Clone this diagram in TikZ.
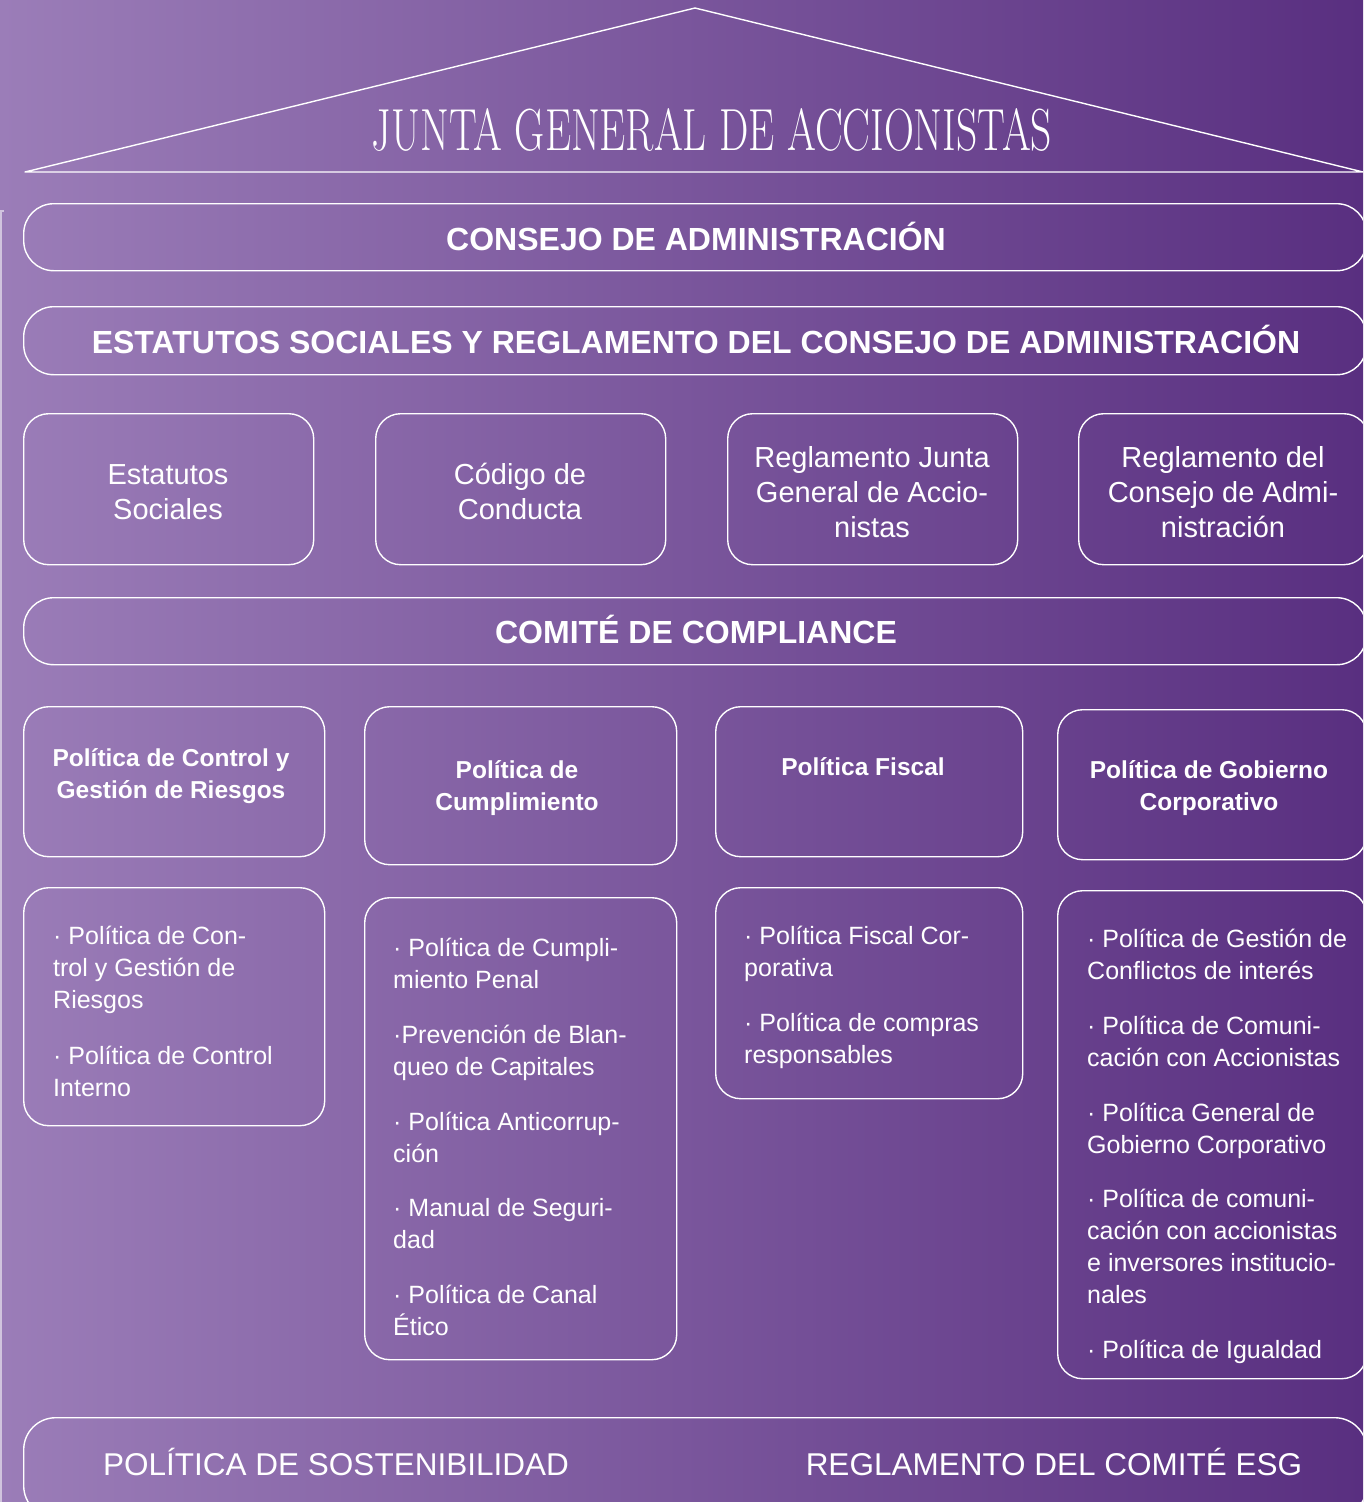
\documentclass[tikz,border=0pt]{standalone}
\usepackage{fontspec}
\setmainfont{Liberation Sans}
\newfontfamily\titlefont{Latin Modern Roman}
\usepackage{graphicx}
\definecolor{bgL}{HTML}{9B7DB8}
\definecolor{bgR}{HTML}{592F80}
\begin{document}
\begin{tikzpicture}[x=1pt,y=-1pt,
  frame/.style={draw=white, line width=1.4pt, rounded corners=#1, inner sep=0pt, anchor=north west},
  frame/.default=25pt,
  roofline/.style={draw=white, line width=1.4pt, line join=round},
  bannertxt/.style={text=white, inner sep=0pt, anchor=base, font=\fontsize{32}{38}\selectfont\bfseries},
  boxtxt/.style={text=white, inner sep=0pt, anchor=base, font=\fontsize{29}{35}\selectfont},
  headtxt/.style={text=white, inner sep=0pt, anchor=base, font=\fontsize{24.5}{32}\selectfont\bfseries},
  lsttxt/.style={text=white, inner sep=0pt, anchor=base west, font=\fontsize{25}{32}\selectfont},
  bottxt/.style={text=white, inner sep=0pt, anchor=base, font=\fontsize{31.5}{38}\selectfont},
  titletxt/.style={text=white, inner sep=0pt, anchor=base, font=\titlefont\fontsize{60}{70}\selectfont}
]
\useasboundingbox (0,0) rectangle (1363,1502);
\shade[left color=bgL, right color=bgR] (0,0) rectangle (1363,1502);
\clip (0,0) rectangle (1363,1502);

% left edge artifact
\draw[white, opacity=0.55, line width=1.5pt] (4,211) -- (1,211) -- (1,1502);

% roof
\coordinate (roofL) at (25,172);
\coordinate (apex) at (695,8);
\coordinate (roofR) at (1363,172);
\draw[roofline] (roofL) -- (apex) -- (roofR) -- cycle;
\node[titletxt] (title) at (712,150) {\resizebox{680pt}{42pt}{JUNTA GENERAL DE ACCIONISTAS}};

% banners
\node[frame=30pt, minimum width=1343pt, minimum height=67pt] (consejo) at (23,203) {};
\node[bannertxt] (consejoT) at (696,250) {CONSEJO DE ADMINISTRACIÓN};

\node[frame=30pt, minimum width=1343pt, minimum height=68pt] (estat) at (23,306) {};
\node[bannertxt] (estatT) at (696,353) {ESTATUTOS SOCIALES Y REGLAMENTO DEL CONSEJO DE ADMINISTRACIÓN};

% row of four documents
\node[frame, minimum width=290pt, minimum height=151pt] (d1) at (23,413) {};
\node[frame, minimum width=290pt, minimum height=151pt] (d2) at (375,413) {};
\node[frame, minimum width=290pt, minimum height=151pt] (d3) at (727,413) {};
\node[frame, minimum width=290pt, minimum height=151pt] (d4) at (1078,413) {};
\node[boxtxt] (d1a) at (168,484) {Estatutos};
\node[boxtxt] (d1b) at (168,519) {Sociales};
\node[boxtxt] (d2a) at (520,484) {Código de};
\node[boxtxt] (d2b) at (520,519) {Conducta};
\node[boxtxt] (d3a) at (872,467) {Reglamento Junta};
\node[boxtxt] (d3b) at (872,502) {General de Accio-};
\node[boxtxt] (d3c) at (872,537) {nistas};
\node[boxtxt] (d4a) at (1223,467) {Reglamento del};
\node[boxtxt] (d4b) at (1223,502) {Consejo de Admi-};
\node[boxtxt] (d4c) at (1223,537) {nistración};

% comite
\node[frame=30pt, minimum width=1343pt, minimum height=67pt] (comite) at (23,597) {};
\node[bannertxt] (comiteT) at (696,643) {COMITÉ DE COMPLIANCE};

% policy headings
\node[frame, minimum width=301pt, minimum height=150pt] (h1) at (23,706) {};
\node[frame, minimum width=312pt, minimum height=158pt] (h2) at (364,706) {};
\node[frame, minimum width=307pt, minimum height=150pt] (h3) at (715,706) {};
\node[frame, minimum width=309pt, minimum height=150pt] (h4) at (1057,709) {};
\node[headtxt] (h1a) at (171,766) {Política de Control y};
\node[headtxt] (h1b) at (171,798) {Gestión de Riesgos};
\node[headtxt] (h2a) at (517,778) {Política de};
\node[headtxt] (h2b) at (517,810) {Cumplimiento};
\node[headtxt] (h3a) at (863,775) {Política Fiscal};
\node[headtxt] (h4a) at (1209,778) {Política de Gobierno};
\node[headtxt] (h4b) at (1209,810) {Corporativo};

% policy lists
\node[frame, minimum width=301pt, minimum height=238pt] (p1) at (23,887) {};
\node[frame, minimum width=312pt, minimum height=462pt] (p2) at (364,897) {};
\node[frame, minimum width=307pt, minimum height=211pt] (p3) at (715,887) {};
\node[frame, minimum width=309pt, minimum height=488pt] (p4) at (1057,890) {};

\node[lsttxt] (p1a) at (53,944) {· Política de Con-};
\node[lsttxt] (p1b) at (53,976) {trol y Gestión de};
\node[lsttxt] (p1c) at (53,1008) {Riesgos};
\node[lsttxt] (p1d) at (53,1064) {· Política de Control};
\node[lsttxt] (p1e) at (53,1096) {Interno};

\node[lsttxt] (p2a) at (393,956) {· Política de Cumpli-};
\node[lsttxt] (p2b) at (393,988) {miento Penal};
\node[lsttxt] (p2c) at (393,1043) {·Prevención de Blan-};
\node[lsttxt] (p2d) at (393,1075) {queo de Capitales};
\node[lsttxt] (p2e) at (393,1130) {· Política Anticorrup-};
\node[lsttxt] (p2f) at (393,1162) {ción};
\node[lsttxt] (p2g) at (393,1216) {· Manual de Seguri-};
\node[lsttxt] (p2h) at (393,1248) {dad};
\node[lsttxt] (p2i) at (393,1303) {· Política de Canal};
\node[lsttxt] (p2j) at (393,1335) {Ético};

\node[lsttxt] (p3a) at (744,944) {· Política Fiscal Cor-};
\node[lsttxt] (p3b) at (744,976) {porativa};
\node[lsttxt] (p3c) at (744,1031) {· Política de compras};
\node[lsttxt] (p3d) at (744,1063) {responsables};

\node[lsttxt] (p4a) at (1087,947) {· Política de Gestión de};
\node[lsttxt] (p4b) at (1087,979) {Conflictos de interés};
\node[lsttxt] (p4c) at (1087,1034) {· Política de Comuni-};
\node[lsttxt] (p4d) at (1087,1066) {cación con Accionistas};
\node[lsttxt] (p4e) at (1087,1121) {· Política General de};
\node[lsttxt] (p4f) at (1087,1153) {Gobierno Corporativo};
\node[lsttxt] (p4g) at (1087,1207) {· Política de comuni-};
\node[lsttxt] (p4h) at (1087,1239) {cación con accionistas};
\node[lsttxt] (p4i) at (1087,1271) {e inversores institucio-};
\node[lsttxt] (p4j) at (1087,1303) {nales};
\node[lsttxt] (p4k) at (1087,1358) {· Política de Igualdad};

% bottom banner
\node[frame=32pt, minimum width=1343pt, minimum height=100pt] (bottom) at (23,1417) {};
\node[bottxt] (sost) at (336,1475) {POLÍTICA DE SOSTENIBILIDAD};
\node[bottxt] (esg) at (1054,1475) {REGLAMENTO DEL COMITÉ ESG};
\end{tikzpicture}
\end{document}
